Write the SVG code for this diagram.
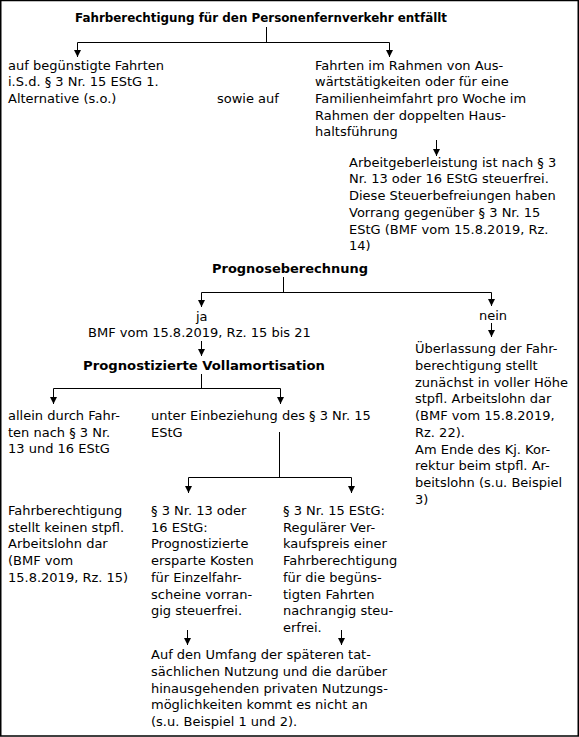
<svg xmlns="http://www.w3.org/2000/svg" width="579" height="737" viewBox="0 0 579 737">
<style>
text{font-family:"DejaVu Sans",Verdana,sans-serif;font-size:13px;fill:#000}
.b{font-weight:bold}
.c line,.c polyline{stroke:#000;stroke-width:1;fill:none}
</style>
<defs>
<marker id="ah" markerUnits="userSpaceOnUse" markerWidth="7" markerHeight="7" refX="3" refY="6" orient="0" viewBox="0 0 6 6">
<path d="M0,0 L6,0 L3,6 z" fill="#000"/>
</marker>
</defs>
<rect x="0.75" y="0.5" width="577.5" height="735.5" fill="#fff" stroke="#000" stroke-width="1.5"/>
<g class="c" id="connectors">
<line x1="266.5" y1="27" x2="266.5" y2="42.5"/>
<line x1="77.5" y1="42.5" x2="389.5" y2="42.5"/>
<line x1="77.5" y1="42.5" x2="77.5" y2="57" marker-end="url(#ah)"/>
<line x1="389.5" y1="42.5" x2="389.5" y2="57" marker-end="url(#ah)"/>
<line x1="436.5" y1="140" x2="436.5" y2="156" marker-end="url(#ah)"/>
<line x1="283.5" y1="277" x2="283.5" y2="292.5"/>
<line x1="201.5" y1="292.5" x2="491.5" y2="292.5"/>
<line x1="201.5" y1="292.5" x2="201.5" y2="307" marker-end="url(#ah)"/>
<line x1="491.5" y1="292.5" x2="491.5" y2="306" marker-end="url(#ah)"/>
<line x1="491.5" y1="323" x2="491.5" y2="337" marker-end="url(#ah)"/>
<line x1="201.5" y1="341" x2="201.5" y2="356" marker-end="url(#ah)"/>
<line x1="201.5" y1="374" x2="201.5" y2="388.5"/>
<line x1="53.5" y1="388.5" x2="280.5" y2="388.5"/>
<line x1="53.5" y1="388.5" x2="53.5" y2="404" marker-end="url(#ah)"/>
<line x1="280.5" y1="388.5" x2="280.5" y2="404" marker-end="url(#ah)"/>
<line x1="279.5" y1="432" x2="279.5" y2="477.5"/>
<line x1="188.5" y1="477.5" x2="351.5" y2="477.5"/>
<line x1="188.5" y1="477.5" x2="188.5" y2="493" marker-end="url(#ah)"/>
<line x1="351.5" y1="477.5" x2="351.5" y2="493" marker-end="url(#ah)"/>
<line x1="187.5" y1="630" x2="187.5" y2="645" marker-end="url(#ah)"/>
<line x1="341.5" y1="630" x2="341.5" y2="645" marker-end="url(#ah)"/>
</g>
<g id="title"><text class="b" x="75" y="22" textLength="372" lengthAdjust="spacingAndGlyphs">Fahrberechtigung für den Personenfernverkehr entfällt</text></g>
<g id="n-beguenstigt"><text x="8"><tspan x="8" y="69.5">auf begünstigte Fahrten</tspan><tspan x="8" y="86.2">i.S.d. § 3 Nr. 15 EStG 1.</tspan><tspan x="8" y="102.9">Alternative (s.o.)</tspan></text></g>
<g id="n-sowie"><text x="217" y="102.9">sowie auf</text></g>
<g id="n-auswaerts"><text><tspan x="315" y="69.5">Fahrten im Rahmen von Aus-</tspan><tspan x="315" y="86.2">wärtstätigkeiten oder für eine</tspan><tspan x="315" y="102.9">Familienheimfahrt pro Woche im</tspan><tspan x="315" y="119.6">Rahmen der doppelten Haus-</tspan><tspan x="315" y="136.3">haltsführung</tspan></text></g>
<g id="n-ag"><text><tspan x="349" y="166.7">Arbeitgeberleistung ist nach § 3</tspan><tspan x="349" y="183.4">Nr. 13 oder 16 EStG steuerfrei.</tspan><tspan x="349" y="200.1">Diese Steuerbefreiungen haben</tspan><tspan x="349" y="216.8">Vorrang gegenüber § 3 Nr. 15</tspan><tspan x="349" y="233.5">EStG (BMF vom 15.8.2019, Rz.</tspan><tspan x="349" y="250.2">14)</tspan></text></g>
<g id="n-prognose"><text class="b" x="212" y="272.5" textLength="156" lengthAdjust="spacingAndGlyphs">Prognoseberechnung</text></g>
<g id="n-ja"><text><tspan x="196" y="320.5">ja</tspan><tspan x="88" y="337">BMF vom 15.8.2019, Rz. 15 bis 21</tspan></text></g>
<g id="n-voll"><text class="b" x="83" y="370" textLength="242" lengthAdjust="spacingAndGlyphs">Prognostizierte Vollamortisation</text></g>
<g id="n-nein"><text x="479" y="320">nein</text></g>
<g id="n-ueberlassung"><text><tspan x="415" y="353.3">Überlassung der Fahr-</tspan><tspan x="415" y="370">berechtigung stellt</tspan><tspan x="415" y="386.7">zunächst in voller Höhe</tspan><tspan x="415" y="403.4">stpfl. Arbeitslohn dar</tspan><tspan x="415" y="420.1">(BMF vom 15.8.2019,</tspan><tspan x="415" y="436.8">Rz. 22).</tspan><tspan x="415" y="453.5">Am Ende des Kj. Kor-</tspan><tspan x="415" y="470.2">rektur beim stpfl. Ar-</tspan><tspan x="415" y="486.9">beitslohn (s.u. Beispiel</tspan><tspan x="415" y="503.6">3)</tspan></text></g>
<g id="n-allein"><text><tspan x="8" y="420">allein durch Fahr-</tspan><tspan x="8" y="436.7">ten nach § 3 Nr.</tspan><tspan x="8" y="453.4">13 und 16 EStG</tspan></text></g>
<g id="n-unter"><text><tspan x="151" y="420">unter Einbeziehung des § 3 Nr. 15</tspan><tspan x="151" y="436.7">EStG</tspan></text></g>
<g id="n-kein"><text><tspan x="8" y="515">Fahrberechtigung</tspan><tspan x="8" y="531.7">stellt keinen stpfl.</tspan><tspan x="8" y="548.4">Arbeitslohn dar</tspan><tspan x="8" y="565.1">(BMF vom</tspan><tspan x="8" y="581.8">15.8.2019, Rz. 15)</tspan></text></g>
<g id="n-13oder16"><text><tspan x="151" y="515">§ 3 Nr. 13 oder</tspan><tspan x="151" y="531.7">16 EStG:</tspan><tspan x="151" y="548.4">Prognostizierte</tspan><tspan x="151" y="565.1">ersparte Kosten</tspan><tspan x="151" y="581.8">für Einzelfahr-</tspan><tspan x="151" y="598.5">scheine vorran-</tspan><tspan x="151" y="615.2">gig steuerfrei.</tspan></text></g>
<g id="n-15"><text><tspan x="283" y="515">§ 3 Nr. 15 EStG:</tspan><tspan x="283" y="531.7">Regulärer Ver-</tspan><tspan x="283" y="548.4">kaufspreis einer</tspan><tspan x="283" y="565.1">Fahrberechtigung</tspan><tspan x="283" y="581.8">für die begüns-</tspan><tspan x="283" y="598.5">tigten Fahrten</tspan><tspan x="283" y="615.2">nachrangig steu-</tspan><tspan x="283" y="631.9">erfrei.</tspan></text></g>
<g id="n-umfang"><text><tspan x="151" y="659.3">Auf den Umfang der späteren tat-</tspan><tspan x="151" y="676">sächlichen Nutzung und die darüber</tspan><tspan x="151" y="692.7">hinausgehenden privaten Nutzungs-</tspan><tspan x="151" y="709.4">möglichkeiten kommt es nicht an</tspan><tspan x="151" y="726.1">(s.u. Beispiel 1 und 2).</tspan></text></g>
</svg>
